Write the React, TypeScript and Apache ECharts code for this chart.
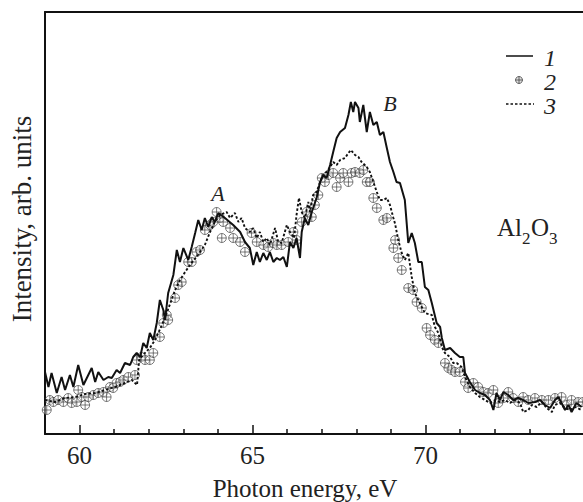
import React, { useEffect, useRef } from "react";
import * as echarts from "echarts";

// Curve 1 (solid line)
const energy1 = [59.0, 59.1, 59.19, 59.34, 59.48, 59.58, 59.72, 59.82, 59.96, 60.11, 60.35, 60.45, 60.54, 60.69, 60.83, 60.93, 61.07, 61.17, 61.31, 61.46, 61.55, 61.65, 61.75, 61.84, 61.94, 62.03, 62.13, 62.23, 62.32, 62.42, 62.47, 62.56, 62.71, 62.81, 62.9, 63.0, 63.14, 63.24, 63.34, 63.43, 63.53, 63.62, 63.72, 63.82, 63.91, 64.01, 64.2, 64.44, 64.64, 64.78, 64.92, 65.02, 65.12, 65.21, 65.31, 65.41, 65.5, 65.6, 65.7, 65.79, 65.89, 65.99, 66.08, 66.18, 66.27, 66.37, 66.42, 66.51, 66.61, 66.71, 66.85, 66.95, 67.04, 67.14, 67.24, 67.33, 67.43, 67.53, 67.67, 67.77, 67.84, 67.91, 67.96, 68.06, 68.1, 68.2, 68.3, 68.39, 68.49, 68.59, 68.68, 68.78, 68.88, 68.97, 69.07, 69.16, 69.26, 69.4, 69.5, 69.6, 69.69, 69.79, 69.89, 69.98, 70.08, 70.18, 70.32, 70.42, 70.47, 70.56, 70.71, 70.85, 70.99, 71.09, 71.14, 71.28, 71.43, 71.57, 71.72, 71.86, 71.96, 72.05, 72.15, 72.25, 72.39, 72.53, 72.68, 72.82, 72.97, 73.16, 73.31, 73.45, 73.6, 73.74, 73.84, 73.93, 74.03, 74.13, 74.22, 74.36, 74.51];
const intensity1 = [0.62, 0.47, 0.61, 0.41, 0.57, 0.44, 0.59, 0.47, 0.69, 0.49, 0.66, 0.52, 0.62, 0.54, 0.57, 0.56, 0.64, 0.61, 0.71, 0.69, 0.77, 0.81, 0.77, 0.91, 0.86, 1.01, 0.94, 1.11, 1.34, 1.24, 1.14, 1.41, 1.59, 1.84, 1.72, 1.86, 1.74, 1.87, 2.01, 2.14, 2.04, 2.16, 2.07, 2.17, 2.12, 2.21, 2.16, 2.09, 2.02, 1.92, 1.86, 1.69, 1.82, 1.72, 1.81, 1.74, 1.82, 1.72, 1.76, 1.74, 1.77, 1.67, 1.92, 1.86, 1.96, 1.76, 2.02, 2.16, 2.09, 2.22, 2.36, 2.52, 2.59, 2.56, 2.69, 2.82, 2.96, 3.02, 3.06, 3.19, 3.32, 3.22, 3.32, 3.26, 3.12, 3.29, 3.02, 3.22, 3.09, 3.12, 2.99, 3.02, 2.86, 2.72, 2.62, 2.52, 2.51, 2.34, 1.91, 2.01, 1.91, 1.72, 1.72, 1.47, 1.44, 1.31, 1.11, 1.07, 0.96, 0.84, 0.86, 0.81, 0.77, 0.77, 0.61, 0.52, 0.44, 0.41, 0.39, 0.34, 0.24, 0.41, 0.34, 0.42, 0.39, 0.34, 0.36, 0.34, 0.31, 0.32, 0.34, 0.29, 0.26, 0.34, 0.37, 0.31, 0.24, 0.29, 0.22, 0.31, 0.27];

// Curve 2 (circles with cross)
const energy2 = [59.05, 59.14, 59.24, 59.38, 59.53, 59.67, 59.77, 59.92, 59.96, 60.06, 60.16, 60.25, 60.4, 60.54, 60.69, 60.78, 60.88, 60.97, 61.07, 61.17, 61.26, 61.41, 61.6, 61.65, 61.79, 61.89, 62.03, 62.13, 62.32, 62.42, 62.52, 62.56, 62.76, 62.85, 62.95, 63.14, 63.24, 63.38, 63.48, 63.62, 63.77, 63.86, 63.96, 64.06, 64.11, 64.15, 64.35, 64.44, 64.64, 64.78, 64.97, 65.12, 65.31, 65.45, 65.6, 65.7, 65.84, 66.03, 66.18, 66.27, 66.42, 66.56, 66.71, 66.8, 66.9, 67.0, 67.09, 67.19, 67.33, 67.43, 67.53, 67.62, 67.77, 67.86, 67.96, 68.1, 68.2, 68.3, 68.39, 68.49, 68.59, 68.78, 68.88, 69.07, 69.12, 69.21, 69.31, 69.5, 69.64, 69.74, 69.89, 70.03, 70.13, 70.27, 70.37, 70.56, 70.66, 70.75, 70.85, 70.99, 71.14, 71.23, 71.38, 71.52, 71.67, 71.81, 71.96, 72.1, 72.25, 72.39, 72.53, 72.68, 72.82, 72.97, 73.16, 73.36, 73.55, 73.74, 73.93, 74.08, 74.22, 74.41, 74.55];
const intensity2 = [0.24, 0.34, 0.32, 0.34, 0.32, 0.36, 0.31, 0.32, 0.44, 0.37, 0.29, 0.37, 0.39, 0.41, 0.42, 0.37, 0.47, 0.46, 0.51, 0.52, 0.54, 0.57, 0.59, 0.74, 0.77, 0.74, 0.74, 0.81, 0.97, 1.11, 1.19, 1.14, 1.36, 1.49, 1.52, 1.72, 1.72, 1.82, 1.84, 2.04, 2.09, 2.12, 2.22, 2.16, 1.96, 2.12, 2.06, 1.96, 1.92, 1.82, 2.01, 1.92, 1.89, 1.87, 1.91, 1.89, 1.89, 1.92, 2.02, 1.94, 2.12, 2.22, 2.17, 2.29, 2.39, 2.56, 2.52, 2.59, 2.61, 2.47, 2.56, 2.61, 2.52, 2.61, 2.62, 2.61, 2.64, 2.52, 2.52, 2.36, 2.26, 2.14, 2.16, 1.86, 1.94, 1.76, 1.64, 1.46, 1.44, 1.32, 1.26, 1.06, 0.99, 0.94, 0.91, 0.71, 0.66, 0.64, 0.62, 0.62, 0.52, 0.46, 0.51, 0.47, 0.42, 0.41, 0.44, 0.31, 0.36, 0.42, 0.36, 0.32, 0.37, 0.34, 0.36, 0.34, 0.34, 0.36, 0.37, 0.29, 0.34, 0.32, 0.32];

// Curve 3 (dotted line)
const energy3 = [59.0, 59.29, 59.58, 59.87, 60.16, 60.45, 60.73, 61.02, 61.31, 61.51, 61.66, 61.72, 61.83, 62.03, 62.18, 62.38, 62.55, 62.76, 62.9, 63.05, 63.19, 63.42, 63.62, 63.77, 63.91, 64.06, 64.25, 64.35, 64.49, 64.59, 64.68, 64.78, 64.92, 65.02, 65.12, 65.21, 65.31, 65.41, 65.5, 65.65, 65.74, 65.84, 65.99, 66.08, 66.2, 66.27, 66.34, 66.42, 66.51, 66.61, 66.66, 66.75, 66.85, 66.95, 67.04, 67.14, 67.24, 67.33, 67.43, 67.53, 67.67, 67.77, 67.84, 67.96, 68.06, 68.15, 68.3, 68.39, 68.49, 68.59, 68.68, 68.78, 68.88, 68.97, 69.07, 69.12, 69.21, 69.31, 69.4, 69.5, 69.6, 69.69, 69.79, 69.89, 69.98, 70.18, 70.27, 70.37, 70.47, 70.56, 70.71, 70.8, 70.9, 71.04, 71.14, 71.28, 71.43, 71.57, 71.72, 71.86, 72.01, 72.15, 72.29, 72.44, 72.58, 72.73, 72.82, 72.97, 73.07, 73.21, 73.36, 73.5, 73.65, 73.74, 73.88, 74.03, 74.17, 74.32, 74.51];
const intensity3 = [0.34, 0.32, 0.36, 0.37, 0.4, 0.41, 0.44, 0.47, 0.51, 0.54, 0.49, 0.74, 0.79, 0.86, 0.94, 1.09, 1.24, 1.44, 1.54, 1.62, 1.69, 1.79, 1.89, 2.02, 2.12, 2.19, 2.22, 2.16, 2.21, 2.12, 2.16, 2.06, 2.02, 2.06, 1.96, 2.02, 1.92, 1.96, 1.89, 2.06, 1.92, 1.91, 2.09, 2.02, 1.96, 2.19, 2.36, 2.22, 2.16, 2.32, 2.22, 2.39, 2.42, 2.52, 2.59, 2.62, 2.67, 2.72, 2.69, 2.74, 2.76, 2.81, 2.84, 2.79, 2.77, 2.72, 2.67, 2.62, 2.52, 2.42, 2.34, 2.34, 2.36, 2.29, 2.16, 2.1, 1.94, 1.81, 1.74, 1.81, 1.57, 1.41, 1.34, 1.27, 1.21, 1.19, 1.07, 1.01, 0.87, 0.81, 0.77, 0.71, 0.71, 0.67, 0.57, 0.47, 0.41, 0.37, 0.34, 0.31, 0.34, 0.32, 0.34, 0.31, 0.34, 0.31, 0.22, 0.24, 0.29, 0.27, 0.32, 0.26, 0.22, 0.29, 0.31, 0.26, 0.24, 0.27, 0.24];

const majorTicks = [60, 65, 70];
const minorTicks = [59, 61, 62, 63, 64, 66, 67, 68, 69, 71, 72, 73, 74];
const legendLabels = ["1", "2", "3"];
const peakLabels = ["A", "B"];

const SERIF = "Liberation Serif";
const MARKER = "path://M10,0A10,10 0 1,1 10,20A10,10 0 1,1 10,0ZM0,10L20,10M10,0L10,20";

const pairs = (xs: number[], ys: number[]) => xs.map((x, i) => [x, ys[i]]);

export default function App() {
  const ref = useRef<HTMLDivElement>(null);
  useEffect(() => {
    if (!ref.current) return;
    const chart = echarts.init(ref.current, null, { renderer: "svg" });
    const xBase = {
      type: "value" as const,
      min: 59,
      max: 74.55,
      splitLine: { show: false },
    };
    chart.setOption({
      animation: false,
      backgroundColor: "#fff",
      textStyle: { fontFamily: SERIF },
      grid: { left: 45, right: 0, top: 12, bottom: 68, outerBoundsMode: "none" },
      xAxis: [
        {
          ...xBase,
          position: "bottom",
          name: "Photon energy, eV",
          nameLocation: "middle",
          nameGap: 42,
          nameTextStyle: { fontFamily: SERIF, fontSize: 25, color: "#222", padding: [0, 18, 0, 0] },
          axisLine: { show: true, lineStyle: { color: "#111", width: 2 } },
          axisTick: { show: true, inside: true, length: 9, customValues: majorTicks, lineStyle: { color: "#111", width: 1.5 } },
          axisLabel: { show: true, customValues: majorTicks, margin: 9, fontFamily: SERIF, fontSize: 25, color: "#222" },
        },
        {
          ...xBase,
          position: "bottom",
          axisLine: { show: false },
          axisTick: { show: true, inside: true, length: 5, customValues: minorTicks, lineStyle: { color: "#111", width: 1.5 } },
          axisLabel: { show: false },
        },
        {
          ...xBase,
          position: "top",
          axisLine: { show: true, lineStyle: { color: "#111", width: 2 } },
          axisTick: { show: false },
          axisLabel: { show: false },
        },
      ],
      yAxis: {
        type: "value",
        min: 0,
        max: 4.22,
        name: "Intensity, arb. units",
        nameLocation: "middle",
        nameGap: 10,
        nameTextStyle: { fontFamily: SERIF, fontSize: 27, color: "#222", padding: [0, 0, 0, 8] },
        axisLine: { show: true, lineStyle: { color: "#111", width: 2 } },
        axisTick: { show: false },
        axisLabel: { show: false },
        splitLine: { show: false },
      },
      series: [
        {
          name: "3",
          type: "line",
          data: pairs(energy3, intensity3),
          showSymbol: false,
          lineStyle: { color: "#111", width: 1.9, type: [2.5, 2] },
        },
        {
          name: "2",
          type: "scatter",
          data: pairs(energy2, intensity2),
          symbol: MARKER,
          symbolSize: 9,
          itemStyle: { color: "rgba(255,255,255,0.5)", borderColor: "#333", borderWidth: 0.8 },
        },
        {
          name: "1",
          type: "line",
          data: pairs(energy1, intensity1),
          showSymbol: false,
          lineStyle: { color: "#111", width: 2 },
        },
      ],
      graphic: [
        { type: "line", shape: { x1: 506, y1: 56, x2: 533, y2: 56 }, style: { stroke: "#111", lineWidth: 1.5 } },
        { type: "circle", shape: { cx: 519, cy: 80, r: 3.5 }, style: { fill: "#ddd", stroke: "#444", lineWidth: 0.8 } },
        { type: "line", shape: { x1: 515.5, y1: 80, x2: 522.5, y2: 80 }, style: { stroke: "#444", lineWidth: 0.8 } },
        { type: "line", shape: { x1: 519, y1: 76.5, x2: 519, y2: 83.5 }, style: { stroke: "#444", lineWidth: 0.8 } },
        { type: "line", shape: { x1: 506, y1: 104, x2: 534, y2: 104 }, style: { stroke: "#111", lineWidth: 1.7, lineDash: [2.5, 2] } },
        ...legendLabels.map((t, i) => ({
          type: "text",
          x: 550,
          y: 58 + i * 24,
          style: { text: t, fontFamily: SERIF, fontStyle: "italic", fontSize: 24, fill: "#222", align: "center", verticalAlign: "middle" },
        })),
        { type: "text", x: 218, y: 193, style: { text: peakLabels[0], fontFamily: SERIF, fontStyle: "italic", fontSize: 22, fill: "#222", align: "center", verticalAlign: "middle" } },
        { type: "text", x: 390, y: 103, style: { text: peakLabels[1], fontFamily: SERIF, fontStyle: "italic", fontSize: 22, fill: "#222", align: "center", verticalAlign: "middle" } },
        { type: "text", x: 497, y: 227, style: { text: "Al", fontFamily: SERIF, fontSize: 25, fill: "#222", align: "left", verticalAlign: "middle" } },
        { type: "text", x: 522, y: 238, style: { text: "2", fontFamily: SERIF, fontSize: 17, fill: "#222", align: "left", verticalAlign: "middle" } },
        { type: "text", x: 531, y: 227, style: { text: "O", fontFamily: SERIF, fontSize: 25, fill: "#222", align: "left", verticalAlign: "middle" } },
        { type: "text", x: 549, y: 238, style: { text: "3", fontFamily: SERIF, fontSize: 17, fill: "#222", align: "left", verticalAlign: "middle" } },
      ],
    });
    return () => chart.dispose();
  }, []);
  return <div ref={ref} style={{ position: "fixed", left: 0, top: 0, width: 583, height: 502 }} />;
}
